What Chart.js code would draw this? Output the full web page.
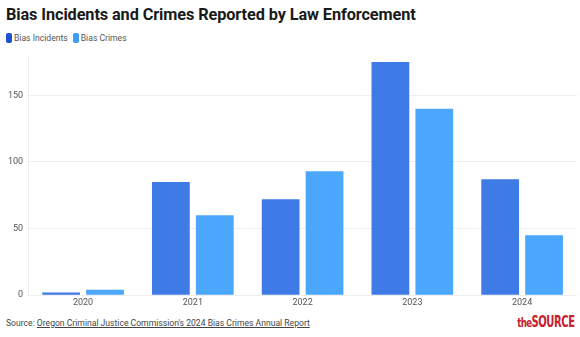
<!DOCTYPE html>
<html>
<head>
<meta charset="utf-8">
<script src="https://cdn.jsdelivr.net/npm/chart.js@4/dist/chart.umd.min.js"></script>
<style>
  html, body { margin: 0; padding: 0; background: #fff; }
  body { width: 580px; height: 337px; position: relative; overflow: hidden; font-family: Roboto, sans-serif; }
  #title { position: absolute; left: 6px; top: 5px; font-size: 16.3px; font-weight: 700; color: #1a1a1a; letter-spacing: -0.1px; }
  #legend { position: absolute; left: 6px; top: 33px; font-size: 8.6px; color: #555; display: flex; gap: 5px; }
  #legend span.sw { display: inline-block; width: 6px; height: 10px; border-radius: 2px; margin-right: 2px; vertical-align: -2px; }
  #wrap { position: absolute; left: 0; top: 45px; width: 580px; height: 265px; }
  #source { position: absolute; left: 6px; top: 318px; font-size: 8.6px; color: #444; }
  #source a { color: #444; text-decoration: underline; }
  #logo { position: absolute; right: 5px; top: 313px; font-family: 'DejaVu Sans Condensed', 'DejaVu Sans', sans-serif; font-size: 15px; font-weight: 700; color: #c8202f; letter-spacing: -0.6px; transform: scaleX(0.74); transform-origin: right center; }
  #logo .the { font-size: 13px; letter-spacing: -0.8px; }
</style>
</head>
<body>
<div id="title">Bias Incidents and Crimes Reported by Law Enforcement</div>
<div id="legend"></div>
<div id="wrap"><canvas id="chart"></canvas></div>
<div id="source">Source: <a>Oregon Criminal Justice Commission's 2024 Bias Crimes Annual Report</a></div>
<div id="logo"><span class="the">the</span>SOURCE</div>
<script>
// Years and reported counts
const years = ['2020', '2021', '2022', '2023', '2024'];
const biasIncidents = [2, 85, 72, 175, 87];
const biasCrimes = [4, 60, 93, 140, 45];
const yTicks = [0, 50, 100, 150];

const series = [
  { label: 'Bias Incidents', data: biasIncidents, bar: '#3e7be6', key: '#1f4fd3' },
  { label: 'Bias Crimes', data: biasCrimes, bar: '#4aa7fb', key: '#3a9cf2' },
];

// HTML legend above the chart
const legend = document.getElementById('legend');
series.forEach((s) => {
  const item = document.createElement('div');
  item.innerHTML = `<span class="sw" style="background:${s.key}"></span>${s.label}`;
  legend.appendChild(item);
});

const tickFont = { family: 'Roboto, sans-serif', size: 9 };

new Chart(document.getElementById('chart'), {
  type: 'bar',
  data: {
    labels: years,
    datasets: series.map((s) => ({
      label: s.label,
      data: s.data,
      backgroundColor: s.bar,
      categoryPercentage: 0.8,
      barPercentage: 0.86,
    })),
  },
  options: {
    responsive: true,
    maintainAspectRatio: false,
    animation: false,
    layout: { padding: { top: 5, right: 3, left: 3, bottom: 0 } },
    plugins: { legend: { display: false }, tooltip: { enabled: false } },
    scales: {
      x: {
        grid: { display: false, drawTicks: false },
        border: { display: false },
        ticks: { color: '#555', font: tickFont, padding: 2 },
      },
      y: {
        min: 0,
        max: 180,
        afterBuildTicks: (axis) => { axis.ticks = yTicks.map((v) => ({ value: v })); },
        grid: { color: '#eeeeee', drawTicks: false },
        border: { display: true, color: '#eeeeee' },
        ticks: { color: '#555', font: tickFont, padding: 5 },
      },
    },
  },
});
</script>
</body>
</html>
